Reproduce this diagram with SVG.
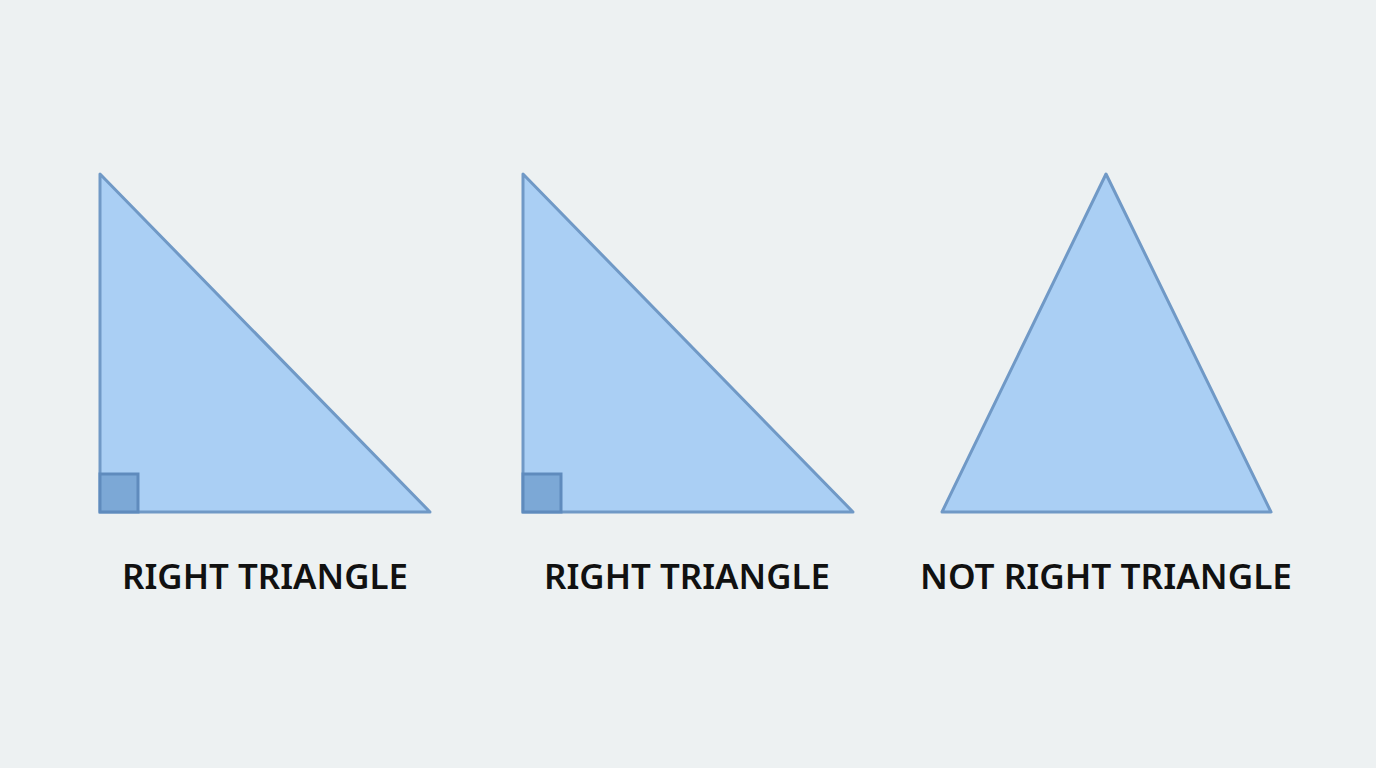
<svg xmlns="http://www.w3.org/2000/svg" width="1376" height="768" viewBox="0 0 1376 768">
<style>
.tri{fill:#aacff4;stroke:#7099c6;stroke-width:3;stroke-linejoin:round}
.sq{fill:#7ca8d6;stroke:#5f8bbd;stroke-width:3}
.lbl{font-family:"Noto Sans","Liberation Sans",sans-serif;font-size:34px;font-weight:600;fill:#111;text-anchor:middle}
</style>
<rect width="1376" height="768" fill="#edf1f2"/>
<g id="triangle1">
<polygon class="tri" points="100,174 100,512 430,512"/>
<rect class="sq" x="100" y="474" width="38" height="38"/>
<text class="lbl" x="265" y="589" textLength="286" lengthAdjust="spacingAndGlyphs">RIGHT TRIANGLE</text>
</g>
<g id="triangle2">
<polygon class="tri" points="523,174 523,512 853,512"/>
<rect class="sq" x="523" y="474" width="38" height="38"/>
<text class="lbl" x="687" y="589" textLength="286" lengthAdjust="spacingAndGlyphs">RIGHT TRIANGLE</text>
</g>
<g id="triangle3">
<polygon class="tri" points="1106,174 1271,512 942,512"/>
<text class="lbl" x="1106" y="589" textLength="372" lengthAdjust="spacingAndGlyphs">NOT RIGHT TRIANGLE</text>
</g>
<g id="connectors"/>
</svg>
